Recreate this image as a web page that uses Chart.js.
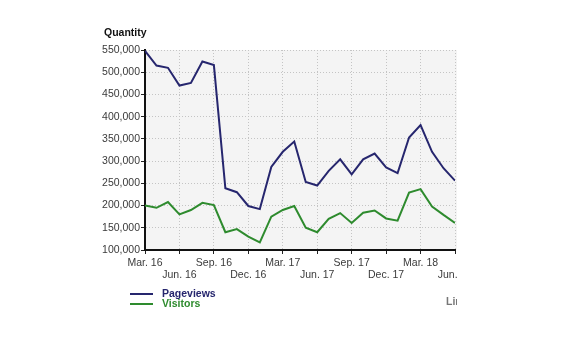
<!DOCTYPE html>
<html>
<head>
<meta charset="utf-8">
<script src="https://cdn.jsdelivr.net/npm/chart.js@4.4.1/dist/chart.umd.min.js"></script>
<style>
  html, body { margin: 0; padding: 0; background: #fff; }
  body { width: 584px; height: 341px; position: relative; overflow: hidden; font-family: "Liberation Sans", Arial, sans-serif; }
  #frame { position: absolute; left: 0; top: 0; width: 457px; height: 341px; overflow: hidden; }
  #frame canvas { position: absolute; left: 0; top: 0; }
  .ytitle { position: absolute; left: 104px; top: 26px; font-size: 10.5px; font-weight: bold; color: #111; }
  .legend { position: absolute; left: 130px; top: 288px; font-size: 10.5px; font-weight: bold; line-height: 10px; }
  .legend div { position: relative; padding-left: 32px; height: 10px; }
  .legend span.sw { position: absolute; left: 0; top: 5px; width: 23px; height: 2px; }
  .more { position: absolute; left: 446px; top: 295px; font-size: 10.5px; font-weight: bold; color: #777; }
</style>
</head>
<body>
<div id="frame">
  <canvas id="c" width="540" height="341"></canvas>
  <div class="ytitle">Quantity</div>
  <div class="legend">
    <div style="color:#26266e"><span class="sw" style="background:#26266e"></span>Pageviews</div>
    <div style="color:#2e8b2e"><span class="sw" style="background:#2e8b2e"></span>Visitors</div>
  </div>
  <div class="more">Links</div>
</div>
<script>
// Monthly totals, March 2016 to June 2018
const months = [
  "Mar. 16", "Apr. 16", "May 16", "Jun. 16", "Jul. 16", "Aug. 16", "Sep. 16",
  "Oct. 16", "Nov. 16", "Dec. 16", "Jan. 17", "Feb. 17", "Mar. 17", "Apr. 17",
  "May 17", "Jun. 17", "Jul. 17", "Aug. 17", "Sep. 17", "Oct. 17", "Nov. 17",
  "Dec. 17", "Jan. 18", "Feb. 18", "Mar. 18", "Apr. 18", "May 18", "Jun. 18"
];
const pageviews = [
  548000, 515000, 510000, 470000, 476000, 524000, 516000,
  239000, 230000, 199000, 192000, 287000, 321000, 344000,
  253000, 245000, 278000, 304000, 270000, 304000, 317000,
  286000, 273000, 353000, 381000, 321000, 284000, 256000
];
const visitors = [
  200000, 195000, 208000, 180000, 190000, 206000, 201000,
  140000, 147000, 130000, 117000, 175000, 190000, 199000,
  150000, 140000, 170000, 183000, 161000, 184000, 189000,
  171000, 166000, 229000, 237000, 198000, 179000, 161000
];
const yTicks = [100000, 150000, 200000, 250000, 300000, 350000, 400000, 450000, 500000, 550000];

const toPoints = arr => arr.map((v, i) => ({ x: i, y: v }));

const plotBackground = {
  id: 'plotBackground',
  beforeDraw(chart) {
    const { ctx, chartArea: a } = chart;
    ctx.save();
    ctx.fillStyle = '#f4f4f4';
    ctx.fillRect(a.left, a.top, a.right - a.left + 2, a.bottom - a.top);
    ctx.restore();
  }
};

const tickFont = { family: '"Liberation Sans", Arial, sans-serif', size: 10.5 };

new Chart(document.getElementById('c'), {
  type: 'line',
  data: {
    datasets: [
      { label: 'Pageviews', data: toPoints(pageviews), borderColor: '#26266e', borderWidth: 2, pointRadius: 0, tension: 0 },
      { label: 'Visitors', data: toPoints(visitors), borderColor: '#2e8b2e', borderWidth: 2, pointRadius: 0, tension: 0 }
    ]
  },
  options: {
    responsive: false,
    animation: false,
    devicePixelRatio: 1,
    layout: { padding: { left: 0, right: 85, top: 50, bottom: 61 } },
    plugins: { legend: { display: false }, tooltip: { enabled: false }, title: { display: false } },
    scales: {
      x: {
        type: 'linear',
        min: 0,
        max: months.length - 1,
        afterFit(s) { s.height = 30; },
        afterBuildTicks(s) {
          s.ticks = [];
          for (let i = 0; i < months.length; i += 3) s.ticks.push({ value: i });
        },
        ticks: {
          autoSkip: false,
          maxRotation: 0,
          padding: 3,
          color: '#3a3a3a',
          font: { ...tickFont, lineHeight: 1.15 },
          callback(v) {
            const label = months[v];
            return (v / 3) % 2 === 0 ? [label, ''] : ['', label];
          }
        },
        grid: { color: '#c4c4c4', lineWidth: 1, tickLength: 4, tickColor: '#222', tickWidth: 1 },
        border: { display: true, color: '#111', width: 2, dash: [1, 2] }
      },
      y: {
        min: yTicks[0],
        max: yTicks[yTicks.length - 1],
        afterFit(s) { s.width = 145; },
        afterBuildTicks(s) { s.ticks = yTicks.map(v => ({ value: v })); },
        ticks: {
          padding: 1,
          color: '#3a3a3a',
          font: tickFont,
          callback: v => v.toLocaleString('en-US')
        },
        grid: { color: '#c4c4c4', lineWidth: 1, tickLength: 4, tickColor: '#222', tickWidth: 1 },
        border: { display: true, color: '#111', width: 2, dash: [1, 2] }
      }
    }
  },
  plugins: [plotBackground]
});
</script>
</body>
</html>
